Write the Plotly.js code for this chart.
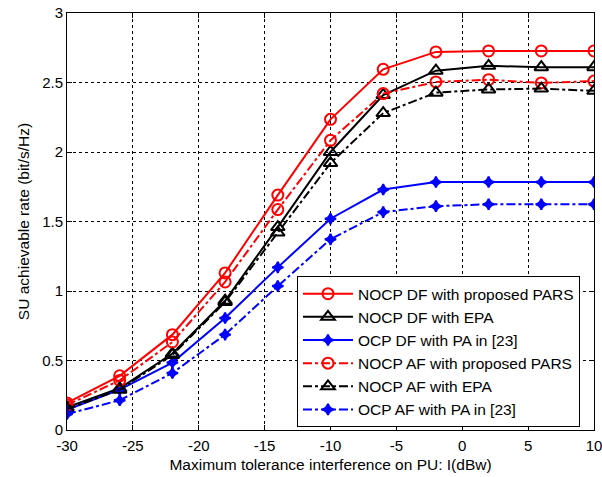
<!DOCTYPE html>
<html>
<head>
<meta charset="utf-8">
<script src="https://cdn.plot.ly/plotly-3.0.1.min.js"></script>
<style>html,body{margin:0;padding:0;background:#fff;}#chart{width:602px;height:477px;}</style>
</head>
<body>
<div id="chart"></div>
<script>
const interference = [-30, -26, -22, -18, -14, -10, -6, -2, 2, 6, 10];
const nocpDfPars = [0.195, 0.39, 0.686, 1.13, 1.69, 2.235, 2.595, 2.72, 2.727, 2.727, 2.727];
const nocpDfEpa  = [0.163, 0.30, 0.55, 0.93, 1.46, 2.00, 2.41, 2.585, 2.62, 2.61, 2.61];
const ocpDfPa    = [0.145, 0.29, 0.485, 0.806, 1.17, 1.52, 1.73, 1.784, 1.784, 1.784, 1.784];
const nocpAfPars = [0.18, 0.357, 0.633, 1.065, 1.586, 2.084, 2.42, 2.504, 2.52, 2.497, 2.51];
const nocpAfEpa  = [0.15, 0.29, 0.54, 0.92, 1.42, 1.92, 2.28, 2.427, 2.45, 2.456, 2.44];
const ocpAfPa    = [0.115, 0.214, 0.41, 0.686, 1.036, 1.372, 1.568, 1.61, 1.624, 1.624, 1.624];
const seriesNames = [
  'NOCP DF with proposed PARS',
  'NOCP DF with EPA',
  'OCP DF with PA in [23]',
  'NOCP AF with proposed PARS',
  'NOCP AF with EPA',
  'OCP AF with PA in [23]'
];
const xTicks = [-30, -25, -20, -15, -10, -5, 0, 5, 10];
const yTicks = [0, 0.5, 1, 1.5, 2, 2.5, 3];

const seriesValues = [nocpDfPars, nocpDfEpa, ocpDfPa, nocpAfPars, nocpAfEpa, ocpAfPa];
const colors = ['#ff0000', '#000000', '#0000ff', '#ff0000', '#000000', '#0000ff'];
const dashes = ['solid', 'solid', 'solid', 'dashdot', 'dashdot', 'dashdot'];
const symbols = ['circle-open', 'triangle-up-open', 'star-diamond', 'circle-open', 'triangle-up-open', 'star-diamond'];
const sizes = [11, 12, 8, 11, 12, 8];

const traces = seriesValues.map((vals, i) => ({
  x: interference,
  y: vals,
  name: seriesNames[i],
  type: 'scatter',
  mode: 'lines+markers',
  legendgroup: 'g' + i,
  line: {color: colors[i], width: 2, dash: dashes[i]},
  marker: {symbol: symbols[i], size: sizes[i], color: colors[i], line: {color: colors[i], width: 2}}
}));

const FONT = 'Liberation Sans, Arial, sans-serif';
const axisCommon = {
  showline: true, mirror: 'ticks', linecolor: '#000', linewidth: 1,
  ticks: 'inside', ticklen: 5, tickcolor: '#000',
  showgrid: true, gridcolor: '#000', griddash: 'dot', gridwidth: 1,
  zeroline: false, automargin: false, ticklabeloverflow: 'allow',
  tickfont: {family: FONT, size: 15, color: '#000'}
};

const layout = {
  width: 602, height: 477,
  margin: {l: 67, r: 8, t: 13, b: 47},
  paper_bgcolor: '#fff', plot_bgcolor: '#fff',
  font: {family: FONT, size: 15, color: '#000'},
  xaxis: Object.assign({}, axisCommon, {
    range: [-30, 10], tickvals: xTicks, ticktext: xTicks.map(String),
    ticklabelstandoff: 2,
    title: {text: 'Maximum tolerance interference on PU: I(dBw)', standoff: 6, font: {size: 15.5}}
  }),
  yaxis: Object.assign({}, axisCommon, {
    range: [0, 3], tickvals: yTicks, ticktext: yTicks.map(String),
    title: {text: 'SU achievable rate (bit/s/Hz)', standoff: 8, font: {size: 15.5}}
  }),
  legend: {
    x: 0.4364, y: 0.369, xanchor: 'left', yanchor: 'top',
    bgcolor: '#fff', bordercolor: '#000', borderwidth: 1,
    font: {size: 15.5}, tracegroupgap: 0, itemwidth: 50
  },
  showlegend: true
};

Plotly.newPlot('chart', traces, layout, {displayModeBar: false, staticPlot: true});
</script>
</body>
</html>
